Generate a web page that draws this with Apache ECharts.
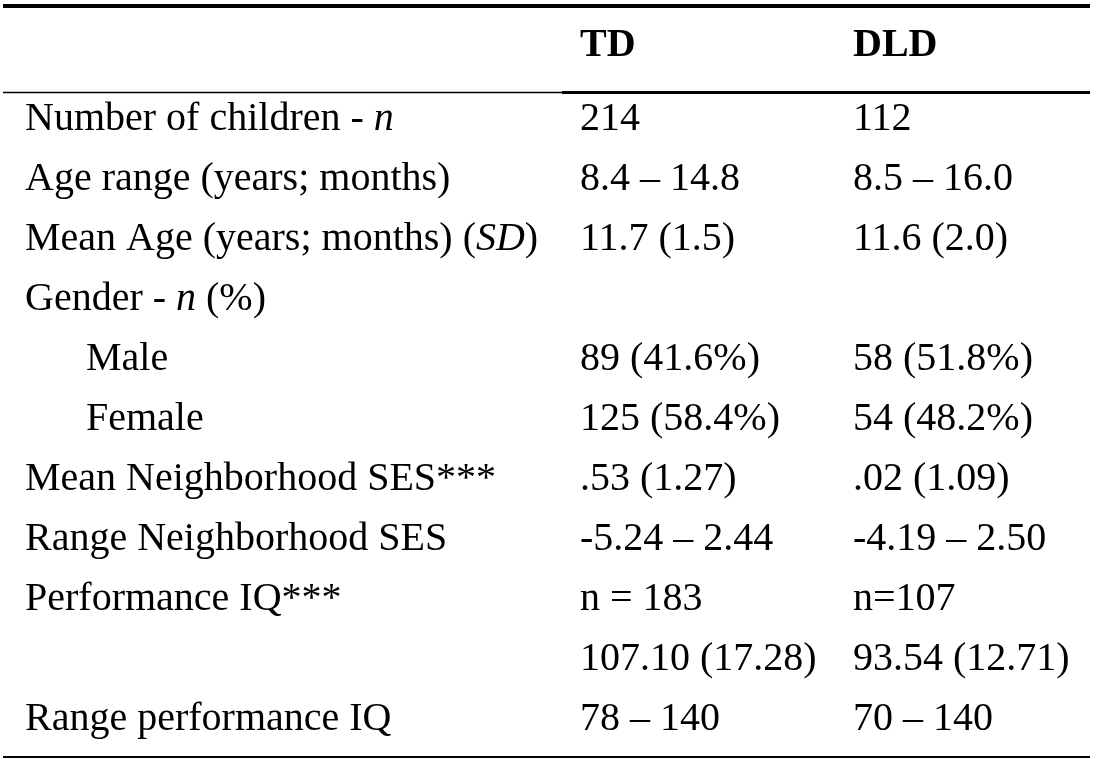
<!DOCTYPE html>
<html>
<head>
<meta charset="utf-8">
<script src="https://cdn.jsdelivr.net/npm/echarts@6/dist/echarts.min.js"></script>
<style>html,body{margin:0;padding:0;background:#fff}#main{width:1098px;height:759px}</style>
</head>
<body>
<div id="main"></div>
<script>
// table content
var headers = ['TD', 'DLD'];
var labels = [
  'Number of children - {i|n}',
  'Age range (years; months)',
  'Mean Age (years; months) ({i|SD})',
  'Gender - {i|n} (%)',
  '      Male',
  '      Female',
  'Mean Neighborhood SES***',
  'Range Neighborhood SES',
  'Performance IQ***',
  '',
  'Range performance IQ'
];
var tdValues = ['214', '8.4 – 14.8', '11.7 (1.5)', '', '89 (41.6%)', '125 (58.4%)',
  '.53 (1.27)', '-5.24 – 2.44', 'n = 183', '107.10 (17.28)', '78 – 140'];
var dldValues = ['112', '8.5 – 16.0', '11.6 (2.0)', '', '58 (51.8%)', '54 (48.2%)',
  '.02 (1.09)', '-4.19 – 2.50', 'n=107', '93.54 (12.71)', '70 – 140'];

var chart = echarts.init(document.getElementById('main'));
var font = '"Liberation Serif", "Times New Roman", serif';
var size = 40;
var els = [];

function txt(x, y, s, bold) {
  els.push({
    type: 'text', x: x, y: y,
    style: {
      text: s, fontFamily: font, fontSize: size, fill: '#000',
      fontWeight: bold ? 'bold' : 'normal', textVerticalAlign: 'middle',
      rich: { i: { fontFamily: font, fontSize: size, fontStyle: 'italic' } }
    }
  });
}
function hline(x1, x2, y, w) {
  els.push({ type: 'line', shape: { x1: x1, y1: y, x2: x2, y2: y }, style: { stroke: '#000', lineWidth: w } });
}

hline(3, 1090, 6, 4);
hline(3, 562, 92.5, 1.5);
hline(562, 1090, 92.5, 3);
hline(3, 1090, 757, 2);

txt(580, 46, headers[0], true);
txt(853, 46, headers[1], true);

for (var r = 0; r < labels.length; r++) {
  var y = 119 + r * 60;
  txt(25, y, labels[r].replace(/^ +/, ''), false);
  if (/^ +/.test(labels[r])) els[els.length - 1].x = 86;
  txt(580, y, tdValues[r], false);
  txt(853, y, dldValues[r], false);
}

chart.setOption({ backgroundColor: '#fff', graphic: { elements: els } });
</script>
</body>
</html>
